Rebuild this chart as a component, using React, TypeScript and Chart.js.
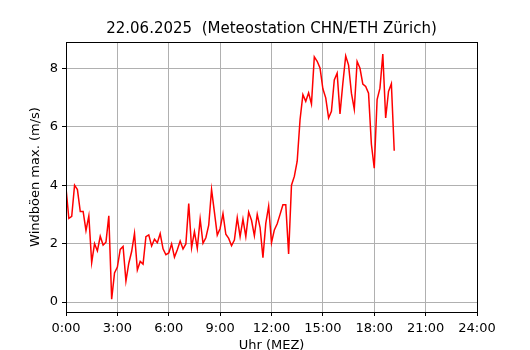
import React, { useEffect, useRef } from "react";
import { Chart, registerables } from "chart.js";

Chart.register(...registerables);

// Windböen max. (m/s), one value every 10 minutes starting at 0:00
const windGusts: number[] = [
  3.9, 2.86, 2.93, 4.0, 3.85, 3.1, 3.1, 2.45, 2.95, 1.35,
  2.0, 1.75, 2.25, 1.95, 2.05, 2.95, 0.1, 1.0, 1.2, 1.8,
  1.9, 0.72, 1.33, 1.73, 2.35, 1.1, 1.39, 1.3, 2.24, 2.3,
  1.92, 2.15, 2.03, 2.34, 1.82, 1.62, 1.68, 1.99, 1.54, 1.79,
  2.09, 1.82, 1.99, 3.37, 1.86, 2.41, 1.84, 2.84, 2.01, 2.2,
  2.63, 3.85, 3.08, 2.29, 2.52, 3.03, 2.32, 2.18, 1.93, 2.12,
  2.89, 2.24, 2.84, 2.24, 3.08, 2.8, 2.27, 3.0, 2.55, 1.52,
  2.69, 3.28, 2.03, 2.47, 2.68, 3.0, 3.33, 3.33, 1.65, 4.0,
  4.3, 4.82, 6.24, 7.1, 6.87, 7.16, 6.78, 8.39, 8.24, 8.01,
  7.3, 6.99, 6.3, 6.53, 7.6, 7.83, 6.44, 7.49, 8.42, 8.11,
  7.15, 6.6, 8.23, 8.0, 7.46, 7.38, 7.15, 5.4, 4.58, 6.93,
  7.32, 8.49, 6.3, 7.21, 7.47, 5.18,
];
const sampleIntervalMinutes = 10;

const xTickMinutes: number[] = [0, 180, 360, 540, 720, 900, 1080, 1260, 1440];
const yTickValues: number[] = [0, 2, 4, 6, 8];

const titleText = "22.06.2025  (Meteostation CHN/ETH Zürich)";
const yAxisTitle = "Windböen max. (m/s)";
const xAxisTitle = "Uhr (MEZ)";

const FONT = "'DejaVu Sans', sans-serif";

const fmtTime = (m: number) =>
  `${Math.floor(m / 60)}:${String(m % 60).padStart(2, "0")}`;

const frameBox = {
  id: "frameBox",
  afterDraw(chart: any) {
    const { ctx, chartArea } = chart;
    ctx.save();
    ctx.strokeStyle = "#000";
    ctx.lineWidth = 1;
    ctx.strokeRect(
      Math.round(chartArea.left) + 0.5,
      Math.round(chartArea.top) + 0.5,
      Math.round(chartArea.right - chartArea.left),
      Math.round(chartArea.bottom - chartArea.top)
    );
    ctx.restore();
  },
};

export default function App() {
  const ref = useRef<HTMLCanvasElement>(null);

  useEffect(() => {
    if (!ref.current) return;
    const points = windGusts.map((v, i) => ({ x: i * sampleIntervalMinutes, y: v }));
    const chart = new Chart(ref.current, {
      type: "line",
      data: {
        datasets: [
          {
            data: points,
            borderColor: "#ff0000",
            borderWidth: 1.5,
            pointRadius: 0,
            tension: 0,
            fill: false,
          },
        ],
      },
      options: {
        responsive: false,
        animation: false,
        devicePixelRatio: 1,
        layout: { padding: { left: 0, right: 53, top: 0, bottom: 0 } },
        plugins: {
          legend: { display: false },
          tooltip: { enabled: false },
          title: {
            display: true,
            text: titleText,
            fullSize: false,
            color: "#000",
            font: { family: FONT, size: 15, weight: "normal", lineHeight: 1.2 },
            padding: { top: 20, bottom: 4 },
          },
        },
        scales: {
          x: {
            type: "linear",
            min: 0,
            max: 1440,
            afterBuildTicks: (s: any) => {
              s.ticks = xTickMinutes.map((v) => ({ value: v }));
            },
            afterFit: (s: any) => {
              s.height = 38;
            },
            ticks: {
              color: "#000",
              font: { family: FONT, size: 13 },
              padding: 5,
              maxRotation: 0,
              autoSkip: false,
              callback: (v: any) => fmtTime(Number(v)),
            },
            grid: {
              color: "#b0b0b0",
              lineWidth: 1,
              drawTicks: true,
              tickLength: 4,
              tickColor: "#000",
            },
            border: { display: true, color: "#000", width: 1 },
            title: {
              display: true,
              text: xAxisTitle,
              color: "#000",
              font: { family: FONT, size: 13, lineHeight: 0.6 },
              padding: { top: 0, bottom: 0 },
            },
          },
          y: {
            type: "linear",
            min: -0.34,
            max: 8.9,
            afterBuildTicks: (s: any) => {
              s.ticks = yTickValues.map((v) => ({ value: v }));
            },
            afterFit: (s: any) => {
              s.width = 66;
            },
            ticks: {
              color: "#000",
              font: { family: FONT, size: 13 },
              padding: 4,
              callback: (v: any) => String(v),
            },
            grid: {
              color: "#b0b0b0",
              lineWidth: 1,
              drawTicks: true,
              tickLength: 4,
              tickColor: "#000",
            },
            border: { display: true, color: "#000", width: 1 },
            title: {
              display: true,
              text: yAxisTitle,
              color: "#000",
              font: { family: FONT, size: 13, lineHeight: 1.2 },
              padding: { top: 28, bottom: 0 },
            },
          },
        },
      },
      plugins: [frameBox],
    } as any);
    return () => chart.destroy();
  }, []);

  return (
    <div style={{ position: "fixed", left: 0, top: 0, width: 530, height: 350, background: "#fff" }}>
      <canvas ref={ref} width={530} height={350} />
    </div>
  );
}
